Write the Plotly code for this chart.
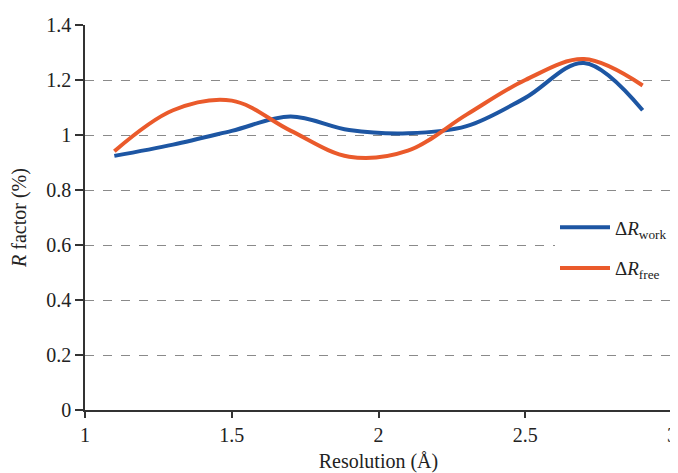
import plotly.graph_objects as go

resolution = [1.1, 1.3, 1.5, 1.7, 1.9, 2.1, 2.3, 2.5, 2.7, 2.9]
delta_r_work = [0.924, 0.965, 1.015, 1.067, 1.018, 1.006, 1.032, 1.135, 1.262, 1.090]
delta_r_free = [0.941, 1.090, 1.125, 1.016, 0.921, 0.943, 1.074, 1.200, 1.276, 1.180]

x_ticks = [1, 1.5, 2, 2.5, 3]
y_ticks = [0, 0.2, 0.4, 0.6, 0.8, 1, 1.2, 1.4]
y_tick_text = ["0", "0.2", "0.4", "0.6", "0.8", "1", "1.2", "1.4"]

SERIF = "Liberation Serif, Times New Roman, serif"
TXT = "#222"

fig = go.Figure()
fig.add_trace(go.Scatter(
    x=resolution, y=delta_r_work, mode="lines",
    line=dict(color="#1d56a3", width=4, shape="spline", smoothing=1.0),
    name="Δ<i>R</i><sub>work</sub>", legendgroup="a",
))
fig.add_trace(go.Scatter(
    x=resolution, y=delta_r_free, mode="lines",
    line=dict(color="#ea5a2b", width=4, shape="spline", smoothing=1.0),
    name="Δ<i>R</i><sub>free</sub>", legendgroup="b",
))

# page body has an 8px margin, so the figure is sized to fit the window
fig.update_layout(
    width=670, height=465,
    margin=dict(l=77, r=6, t=17, b=63),
    paper_bgcolor="white", plot_bgcolor="white",
    font=dict(family=SERIF, color=TXT, size=18),
    legend=dict(
        x=1.0, xanchor="right", y=0.421, yanchor="middle",
        bgcolor="white", font=dict(family=SERIF, size=19, color=TXT),
        tracegroupgap=13, itemwidth=50,
    ),
    xaxis=dict(
        range=[1, 3], tickvals=x_ticks, showgrid=False, zeroline=False,
        showline=True, linecolor="#333", linewidth=1.5, automargin=False,
        ticks="outside", ticklen=6, tickcolor="#333", tickwidth=1.5,
        tickfont=dict(family=SERIF, size=20, color=TXT),
        title=dict(text="Resolution (Å)", font=dict(family=SERIF, size=20, color=TXT)),
    ),
    yaxis=dict(
        range=[0, 1.4], tickvals=y_ticks, ticktext=y_tick_text,
        showgrid=True, gridcolor="#8a8a8a", griddash="dash", gridwidth=1,
        zeroline=False, showline=True, linecolor="#333", linewidth=1.5, automargin=False,
        ticks="outside", ticklen=8, tickcolor="#333", tickwidth=1.5,
        tickfont=dict(family=SERIF, size=20, color=TXT),
        title=dict(text="<i>R</i> factor (%)", font=dict(family=SERIF, size=20, color=TXT)),
    ),
)

fig.write_html("out.html")
